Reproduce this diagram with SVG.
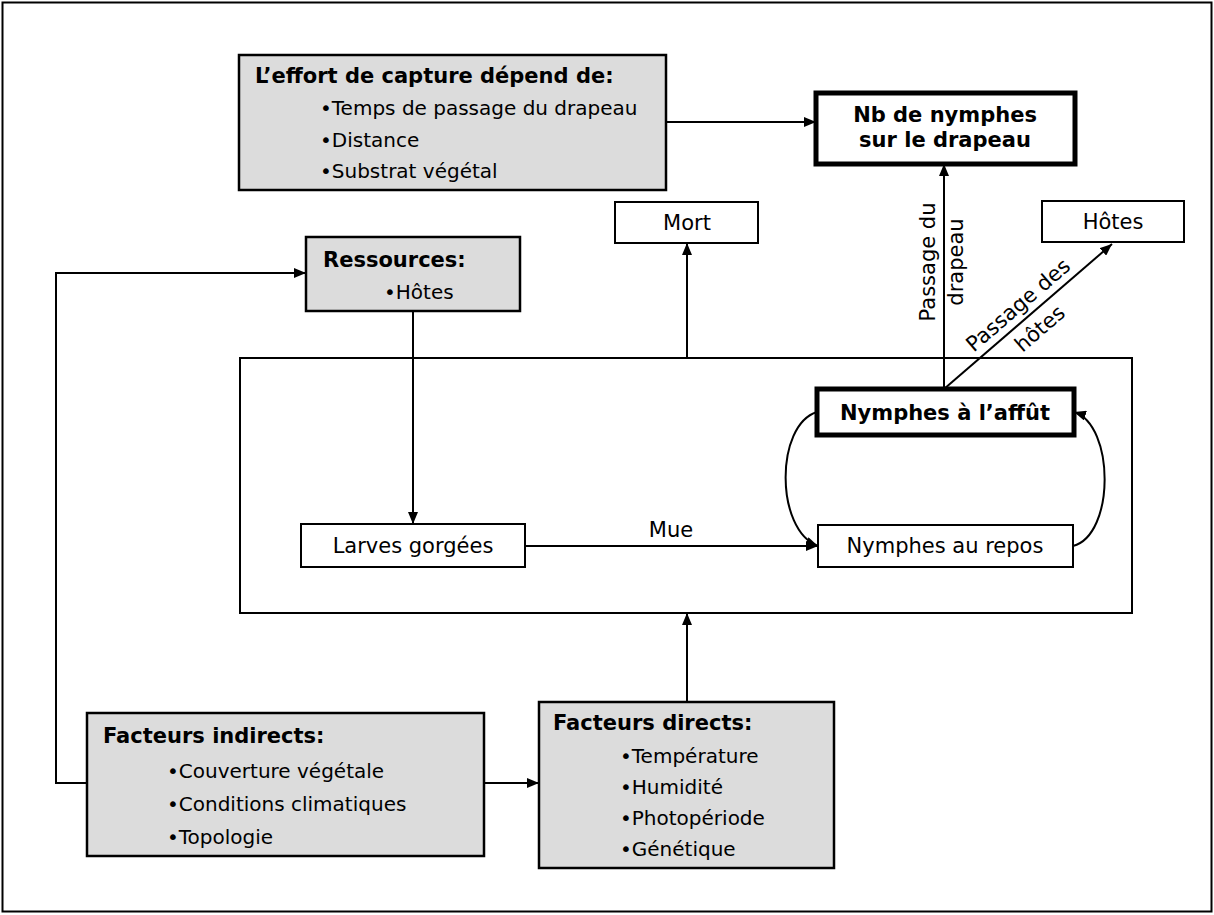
<svg xmlns="http://www.w3.org/2000/svg" width="1214" height="915" viewBox="0 0 1214 915">
<defs>
<style>
.box{fill:#fff;stroke:#000;stroke-width:2}
.gray{fill:#dcdcdc;stroke:#000;stroke-width:2.5}
.thick{fill:#fff;stroke:#000;stroke-width:5}
.t{font-family:"DejaVu Sans",Verdana,sans-serif;font-size:21px;fill:#000}
.b{font-family:"DejaVu Sans",Verdana,sans-serif;font-size:21px;font-weight:bold;fill:#000}
.s{font-family:"DejaVu Sans",Verdana,sans-serif;font-size:20px;fill:#000}
.c{stroke:#000;stroke-width:2;fill:none}
</style>
<marker id="ah" viewBox="0 0 12 10" refX="12" refY="5" markerWidth="12" markerHeight="10" orient="auto" markerUnits="userSpaceOnUse">
<path d="M0,0 L12,5 L0,10 z" fill="#000"/>
</marker>
</defs>
<rect x="0" y="0" width="1214" height="915" fill="#fff"/>
<rect x="2.5" y="2.5" width="1209" height="909" fill="none" stroke="#000" stroke-width="2"/>

<g id="systeme">
<rect class="box" x="240" y="358" width="892" height="255"/>
</g>

<g id="effort">
<rect class="gray" x="239" y="55" width="427" height="135"/>
<text class="b" x="255" y="83">L’effort de capture dépend de:</text>
<text class="s" x="320" y="115">•Temps de passage du drapeau</text>
<text class="s" x="320" y="147">•Distance</text>
<text class="s" x="320" y="178">•Substrat végétal</text>
</g>

<g id="nb-nymphes">
<rect class="thick" x="816" y="93" width="259" height="71"/>
<text class="b" x="945" y="122" text-anchor="middle">Nb de nymphes</text>
<text class="b" x="945" y="147" text-anchor="middle">sur le drapeau</text>
</g>

<g id="mort">
<rect class="box" x="615" y="202" width="143" height="41"/>
<text class="t" x="687" y="230" text-anchor="middle">Mort</text>
</g>

<g id="hotes">
<rect class="box" x="1042" y="201" width="142" height="41"/>
<text class="t" x="1113" y="229" text-anchor="middle">Hôtes</text>
</g>

<g id="ressources">
<rect class="gray" x="306" y="237" width="214" height="74"/>
<text class="b" x="323" y="267">Ressources:</text>
<text class="s" x="384" y="299">•Hôtes</text>
</g>

<g id="nymphes-affut">
<rect class="thick" x="817" y="389" width="257" height="46"/>
<text class="b" x="945" y="420" text-anchor="middle">Nymphes à l’affût</text>
</g>

<g id="nymphes-repos">
<rect class="box" x="818" y="525" width="255" height="42"/>
<text class="t" x="945" y="553" text-anchor="middle">Nymphes au repos</text>
</g>

<g id="larves">
<rect class="box" x="301" y="524" width="224" height="43"/>
<text class="t" x="413" y="553" text-anchor="middle">Larves gorgées</text>
</g>

<g id="facteurs-indirects">
<rect class="gray" x="87" y="713" width="397" height="143"/>
<text class="b" x="103" y="743">Facteurs indirects:</text>
<text class="s" x="167" y="778">•Couverture végétale</text>
<text class="s" x="167" y="811">•Conditions climatiques</text>
<text class="s" x="167" y="844">•Topologie</text>
</g>

<g id="facteurs-directs">
<rect class="gray" x="539" y="702" width="295" height="166"/>
<text class="b" x="553" y="730">Facteurs directs:</text>
<text class="s" x="620" y="763">•Température</text>
<text class="s" x="620" y="794">•Humidité</text>
<text class="s" x="620" y="825">•Photopériode</text>
<text class="s" x="620" y="856">•Génétique</text>
</g>

<g id="connecteurs">
<line class="c" x1="666" y1="122" x2="816" y2="122" marker-end="url(#ah)"/>
<line class="c" x1="944" y1="389" x2="944" y2="164" marker-end="url(#ah)"/>
<line class="c" x1="944" y1="389" x2="1112" y2="244" marker-end="url(#ah)"/>
<line class="c" x1="687" y1="358" x2="687" y2="243" marker-end="url(#ah)"/>
<line class="c" x1="413" y1="311" x2="413" y2="524" marker-end="url(#ah)"/>
<line class="c" x1="525" y1="546" x2="818" y2="546" marker-end="url(#ah)"/>
<path class="c" d="M817,412 C775,425 775,530 818,546" marker-end="url(#ah)"/>
<path class="c" d="M1073,546 C1115,535 1115,425 1074,412" marker-end="url(#ah)"/>
<polyline class="c" points="87,783 56,783 56,273 306,273" marker-end="url(#ah)"/>
<line class="c" x1="484" y1="783" x2="539" y2="783" marker-end="url(#ah)"/>
<line class="c" x1="687" y1="702" x2="687" y2="613" marker-end="url(#ah)"/>
<text class="t" x="671" y="537" text-anchor="middle">Mue</text>
<text class="t" transform="translate(935,262) rotate(-90)" text-anchor="middle">Passage du</text>
<text class="t" transform="translate(963,262) rotate(-90)" text-anchor="middle">drapeau</text>
<g transform="translate(944,389) rotate(-40.8)">
<text class="t" x="111" y="-8" text-anchor="middle">Passage des</text>
<text class="t" x="112" y="24" text-anchor="middle">hôtes</text>
</g>
</g>
</svg>
